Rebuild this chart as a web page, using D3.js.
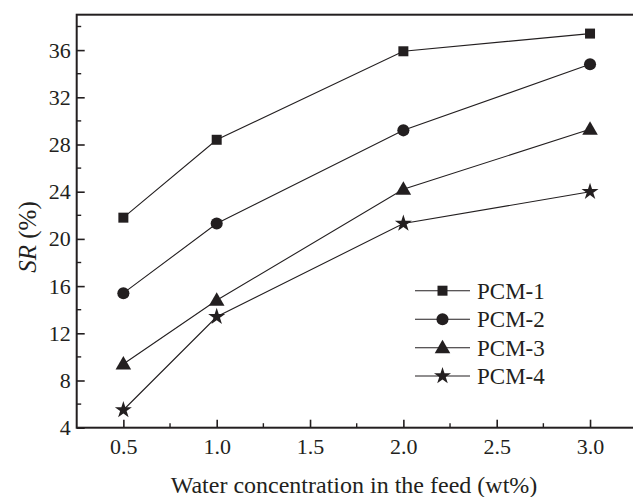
<!DOCTYPE html>
<html><head><meta charset="utf-8">
<script src="https://cdn.jsdelivr.net/npm/d3@7"></script>
<style>body{margin:0;background:#fff}svg{display:block}</style>
</head><body>
<svg id="c" width="633" height="497"></svg>
<script>
const xValues = [0.5, 1.0, 2.0, 3.0];
const seriesNames = ["PCM-1", "PCM-2", "PCM-3", "PCM-4"];
const pcm1 = [21.8, 28.4, 35.9, 37.4];
const pcm2 = [15.4, 21.3, 29.2, 34.8];
const pcm3 = [9.4, 14.8, 24.2, 29.3];
const pcm4 = [5.5, 13.4, 21.3, 24.0];
const xTicks = [0.5, 1.0, 1.5, 2.0, 2.5, 3.0];
const yTicks = [4, 8, 12, 16, 20, 24, 28, 32, 36];

const svg = d3.select("#c");
const ink = "#231f20";
const font = '"Liberation Serif", "Times New Roman", serif';
const L = 76.7, R = 636.7, T = 14.7, B = 427.7;
const x = d3.scaleLinear().domain([0.25, 3.25]).range([L, R]);
const y = d3.scaleLinear().domain([4, 39]).range([B, T]);

const xMinor = d3.range(0.75, 3.25, 0.5);
const yMinor = d3.range(6, 39, 4);
svg.append("g").selectAll("line").data(xMinor).join("line")
  .attr("x1", d => x(d)).attr("x2", d => x(d)).attr("y1", B).attr("y2", B - 4.5)
  .attr("stroke", ink).attr("stroke-width", 1.4);
svg.append("g").selectAll("line").data(yMinor).join("line")
  .attr("y1", d => y(d)).attr("y2", d => y(d)).attr("x1", L).attr("x2", L + 4.5)
  .attr("stroke", ink).attr("stroke-width", 1.4);

const xAxis = d3.axisBottom(x).tickValues(xTicks).tickFormat(d3.format(".1f")).tickSizeInner(-8).tickSizeOuter(0).tickPadding(14);
const yAxis = d3.axisLeft(y).tickValues(yTicks).tickFormat(d3.format("d")).tickSizeInner(-8).tickSizeOuter(0).tickPadding(6);
const gx = svg.append("g").attr("transform", `translate(0,${B})`).call(xAxis);
const gy = svg.append("g").attr("transform", `translate(${L},0)`).call(yAxis);
[gx, gy].forEach(g => {
  g.attr("font-family", font).attr("font-size", 22);
  g.select(".domain").remove();
  g.selectAll(".tick line").attr("stroke", ink).attr("stroke-width", 1.6);
  g.selectAll(".tick text").attr("fill", ink);
});
gx.selectAll(".tick text").attr("dy", "0.71em").attr("y", 11);

svg.append("rect").attr("x", L).attr("y", T).attr("width", R - L).attr("height", B - T)
  .attr("fill", "none").attr("stroke", ink).attr("stroke-width", 2);

const allSeries = [pcm1, pcm2, pcm3, pcm4];
const symbols = [d3.symbolSquare, d3.symbolCircle, d3.symbolTriangle, d3.symbolStar];
const sizes = [100, 115, 105, 90];
const line = d3.line().x((d, i) => x(xValues[i])).y(d => y(d));
allSeries.forEach((s, k) => {
  svg.append("path").attr("d", line(s)).attr("fill", "none").attr("stroke", ink).attr("stroke-width", 1.1);
  svg.append("g").selectAll("path").data(s).join("path")
    .attr("d", d3.symbol().type(symbols[k]).size(sizes[k]))
    .attr("transform", (d, i) => `translate(${x(xValues[i])},${y(d) + (k === 2 ? 1 : 0)})`)
    .attr("fill", ink);
});

const legY = [290.7, 319.3, 347.7, 376];
const lg = svg.append("g");
seriesNames.forEach((n, k) => {
  lg.append("line").attr("x1", 415).attr("x2", 470).attr("y1", legY[k]).attr("y2", legY[k])
    .attr("stroke", ink).attr("stroke-width", 1.1);
  lg.append("path").attr("d", d3.symbol().type(symbols[k]).size(sizes[k])())
    .attr("transform", `translate(442.5,${legY[k] + (k === 2 ? 1 : 0)})`).attr("fill", ink);
  lg.append("text").attr("x", 477).attr("y", legY[k]).attr("dy", "0.35em")
    .attr("fill", ink).attr("font-family", font).attr("font-size", 23).text(n);
});

svg.append("text").attr("x", 354).attr("y", 493)
  .attr("text-anchor", "middle").attr("fill", ink)
  .attr("font-family", font).attr("font-size", 24)
  .text("Water concentration in the feed (wt%)");
const yt = svg.append("text").attr("transform", "translate(36,237) rotate(-90)")
  .attr("text-anchor", "middle").attr("fill", ink)
  .attr("font-family", font).attr("font-size", 25);
yt.append("tspan").attr("font-style", "italic").text("SR");
yt.append("tspan").text(" (%)");
</script>
</body></html>
